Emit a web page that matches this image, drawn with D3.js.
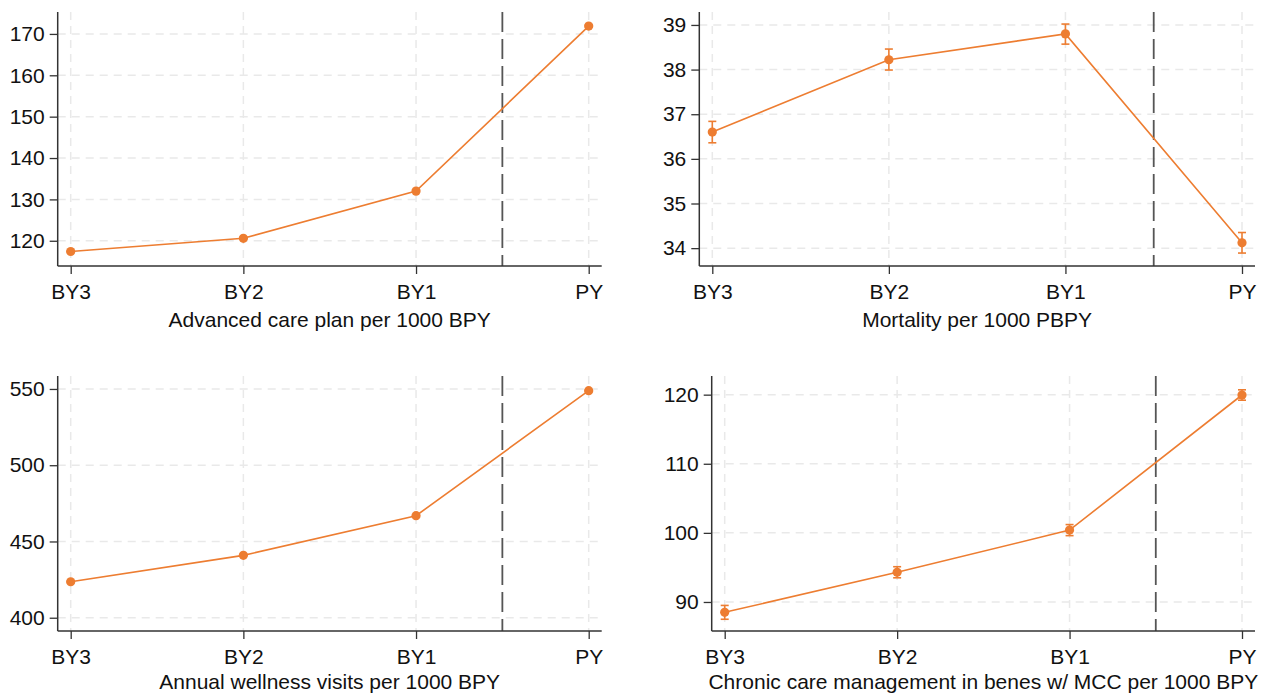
<!DOCTYPE html>
<html>
<head>
<meta charset="utf-8">
<script src="https://cdn.jsdelivr.net/npm/d3@7/dist/d3.min.js"></script>
<style>
  html, body { margin: 0; padding: 0; background: #ffffff; }
  svg { display: block; }
  text { font-family: "Liberation Sans", Arial, sans-serif; fill: #111; }
</style>
</head>
<body>
<svg id="chart" width="1266" height="696"></svg>
<script>
// Period labels along every x axis
const periods = ["BY3", "BY2", "BY1", "PY"];

// Advanced care plan per 1000 BPY
const acpValues = [117.4, 120.6, 132.0, 171.9];
const acpLow    = [117.2, 120.4, 131.8, 171.7];
const acpHigh   = [117.6, 120.8, 132.2, 172.1];
const acpTicks  = [120, 130, 140, 150, 160, 170];

// Mortality per 1000 PBPY
const mortValues = [36.60, 38.22, 38.80, 34.12];
const mortLow    = [36.36, 37.99, 38.57, 33.89];
const mortHigh   = [36.84, 38.46, 39.02, 34.35];
const mortTicks  = [34, 35, 36, 37, 38, 39];

// Annual wellness visits per 1000 BPY
const awvValues = [423.6, 440.9, 466.9, 548.9];
const awvLow    = [423.2, 440.5, 466.5, 548.5];
const awvHigh   = [424.0, 441.3, 467.3, 549.3];
const awvTicks  = [400, 450, 500, 550];

// Chronic care management in benes w/ MCC per 1000 BPY
const ccmValues = [88.5, 94.3, 100.4, 119.95];
const ccmLow    = [87.5, 93.5, 99.6, 119.2];
const ccmHigh   = [89.5, 95.1, 101.2, 120.7];
const ccmTicks  = [90, 100, 110, 120];

const titles = [
  "Advanced care plan per 1000 BPY",
  "Mortality per 1000 PBPY",
  "Annual wellness visits per 1000 BPY",
  "Chronic care management in benes w/ MCC per 1000 BPY"
];

// Panel frames and axis ranges
const panels = [
  { values: acpValues, low: acpLow, high: acpHigh, ticks: acpTicks, title: titles[0],
    left: 57.7, right: 601.7, top: 12, bottom: 266, yDomain: [113.9, 175.3], titleDy: 60.5 },
  { values: mortValues, low: mortLow, high: mortHigh, ticks: mortTicks, title: titles[1],
    left: 699.3, right: 1255, top: 12, bottom: 266, yDomain: [33.60, 39.29], titleDy: 60.5 },
  { values: awvValues, low: awvLow, high: awvHigh, ticks: awvTicks, title: titles[2],
    left: 57.7, right: 601.7, top: 376, bottom: 631, yDomain: [391.3, 558.5], titleDy: 58 },
  { values: ccmValues, low: ccmLow, high: ccmHigh, ticks: ccmTicks, title: titles[3],
    left: 711.7, right: 1255, top: 376, bottom: 631, yDomain: [85.8, 122.7], titleDy: 58 }
];

const orange = "#ED7D31";
const fontSize = 21;
const svg = d3.select("#chart");

panels.forEach(p => {
  const g = svg.append("g");
  const x = d3.scalePoint().domain(periods).range([p.left + 13, p.right - 13]);
  const y = d3.scaleLinear().domain(p.yDomain).range([p.bottom, p.top]);

  // light dashed grid
  g.append("g").selectAll("line.h").data(p.ticks).join("line")
    .attr("x1", p.left).attr("x2", p.right)
    .attr("y1", d => y(d)).attr("y2", d => y(d))
    .attr("stroke", "#e9e9e9").attr("stroke-width", 1.5)
    .attr("stroke-dasharray", "8,6");
  g.append("g").selectAll("line.v").data(periods).join("line")
    .attr("x1", d => x(d)).attr("x2", d => x(d))
    .attr("y1", p.top).attr("y2", p.bottom)
    .attr("stroke", "#e9e9e9").attr("stroke-width", 1.5)
    .attr("stroke-dasharray", "8,6");

  // reference line between the base years and the performance year
  const xRef = (x("BY1") + x("PY")) / 2;
  g.append("line")
    .attr("x1", xRef).attr("x2", xRef)
    .attr("y1", p.top).attr("y2", p.bottom)
    .attr("stroke", "#555").attr("stroke-width", 1.8)
    .attr("stroke-dasharray", "20,7");

  // axes
  const yAxis = d3.axisLeft(y).tickValues(p.ticks).tickSize(8).tickPadding(5).tickFormat(d3.format("d"));
  const ya = g.append("g").attr("transform", `translate(${p.left},0)`).call(yAxis);
  ya.select(".domain").attr("d", `M0,${p.top}V${p.bottom}`);

  const xAxis = d3.axisBottom(x).tickSize(8).tickPadding(10.5);
  const xa = g.append("g").attr("transform", `translate(0,${p.bottom})`).call(xAxis);
  xa.select(".domain").attr("d", `M${p.left},0H${p.right}`);

  [ya, xa].forEach(a => {
    a.select(".domain").attr("stroke", "#333").attr("stroke-width", 1.5);
    a.selectAll(".tick line").attr("stroke", "#333").attr("stroke-width", 1.3);
    a.selectAll(".tick text").attr("font-size", fontSize).attr("fill", "#111")
      .attr("font-family", "Liberation Sans, Arial, sans-serif");
  });

  // axis title
  g.append("text")
    .attr("x", (p.left + p.right) / 2)
    .attr("y", p.bottom + p.titleDy)
    .attr("text-anchor", "middle")
    .attr("font-size", fontSize)
    .text(p.title);

  const pts = periods.map((c, i) => ({ c, v: p.values[i], lo: p.low[i], hi: p.high[i] }));

  // connecting line
  g.append("path").datum(pts)
    .attr("fill", "none").attr("stroke", orange).attr("stroke-width", 1.6)
    .attr("d", d3.line().x(d => x(d.c)).y(d => y(d.v)));

  // confidence intervals
  const ci = g.append("g").attr("stroke", orange).attr("stroke-width", 1.6);
  pts.forEach(d => {
    ci.append("line").attr("x1", x(d.c)).attr("x2", x(d.c)).attr("y1", y(d.lo)).attr("y2", y(d.hi));
    ci.append("line").attr("x1", x(d.c) - 4).attr("x2", x(d.c) + 4).attr("y1", y(d.lo)).attr("y2", y(d.lo));
    ci.append("line").attr("x1", x(d.c) - 4).attr("x2", x(d.c) + 4).attr("y1", y(d.hi)).attr("y2", y(d.hi));
  });

  // markers
  g.append("g").selectAll("circle").data(pts).join("circle")
    .attr("cx", d => x(d.c)).attr("cy", d => y(d.v)).attr("r", 4.6)
    .attr("fill", orange);
});
</script>
</body>
</html>
